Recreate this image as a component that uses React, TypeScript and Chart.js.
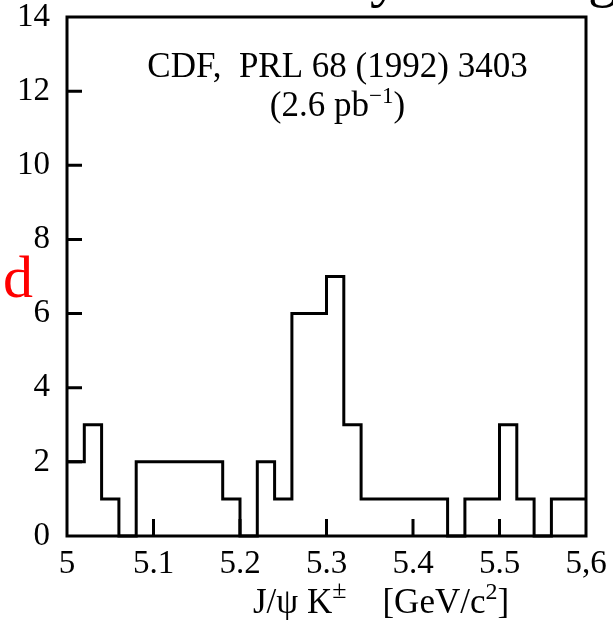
import React, { useEffect, useRef } from "react";
import Chart from "chart.js/auto";

// Bin lower edges (GeV/c^2), bin width 0.02
const binEdges = [
  5.0, 5.02, 5.04, 5.06, 5.08, 5.1, 5.12, 5.14, 5.16, 5.18,
  5.2, 5.22, 5.24, 5.26, 5.28, 5.3, 5.32, 5.34, 5.36, 5.38,
  5.4, 5.42, 5.44, 5.46, 5.48, 5.5, 5.52, 5.54, 5.56, 5.58,
];
const histEnd = 5.6;
// Events per bin
const counts = [
  2, 3, 1, 0, 2, 2, 2, 2, 2, 1,
  0, 2, 1, 6, 6, 7, 3, 1, 1, 1,
  1, 1, 0, 1, 1, 3, 1, 0, 1, 1,
];
const xTickLabels = ["5", "5.1", "5.2", "5.3", "5.4", "5.5", "5,6"];
const yTickLabels = ["0", "2", "4", "6", "8", "10", "12", "14"];
const annotationLine1 = "CDF,  PRL 68 (1992) 3403";
const annotationLine2 = ["(2.6 pb", "\u22121", ")"];
const axisTitle = ["J/\u03c8 K", "\u00b1", "[GeV/c", "2", "]"];

const SERIF = '"Liberation Serif", "DejaVu Serif", serif';

type Run = { text: string; size: number; rise: number; gap?: number };

function drawRuns(ctx: CanvasRenderingContext2D, runs: Run[], cx: number, baseline: number) {
  let total = 0;
  const widths = runs.map((r) => {
    ctx.font = `${r.size}px ${SERIF}`;
    const w = ctx.measureText(r.text).width + (r.gap || 0);
    total += w;
    return w;
  });
  let x = cx - total / 2;
  runs.forEach((r, i) => {
    ctx.font = `${r.size}px ${SERIF}`;
    ctx.fillText(r.text, x + (r.gap || 0), baseline - r.rise);
    x += widths[i];
  });
}

const decorPlugin = {
  id: "decor",
  afterDraw(chart: any) {
    const { ctx, chartArea } = chart;
    const { left, right, top, bottom } = chartArea;
    const xs = chart.scales.x;
    const ys = chart.scales.y;
    ctx.save();
    ctx.strokeStyle = "#000";
    ctx.fillStyle = "#000";
    ctx.lineWidth = 3;
    ctx.lineJoin = "miter";
    // frame
    ctx.strokeRect(left, top, right - left, bottom - top);
    // inward ticks
    ctx.beginPath();
    ys.ticks.forEach((t: any) => {
      if (t.value <= ys.min || t.value >= ys.max) return;
      const y = ys.getPixelForValue(t.value);
      ctx.moveTo(left, y);
      ctx.lineTo(left + 15, y);
    });
    xs.ticks.forEach((t: any) => {
      if (t.value <= xs.min + 1e-9 || t.value >= xs.max - 1e-9) return;
      const x = xs.getPixelForValue(t.value);
      ctx.moveTo(x, bottom);
      ctx.lineTo(x, bottom - 17);
    });
    ctx.stroke();

    ctx.textBaseline = "alphabetic";
    ctx.textAlign = "left";
    const cx = (left + right) / 2 + 11;
    drawRuns(ctx, [{ text: annotationLine1, size: 35, rise: 0 }], cx, 77);
    drawRuns(
      ctx,
      [
        { text: annotationLine2[0], size: 35, rise: 0 },
        { text: annotationLine2[1], size: 23, rise: 13 },
        { text: annotationLine2[2], size: 35, rise: 0 },
      ],
      cx,
      116
    );
    // axis title
    drawRuns(
      ctx,
      [
        { text: axisTitle[0], size: 35, rise: 0 },
        { text: axisTitle[1], size: 26, rise: 15 },
        { text: axisTitle[2], size: 35, rise: 0, gap: 36 },
        { text: axisTitle[3], size: 24, rise: 14 },
        { text: axisTitle[4], size: 35, rise: 0 },
      ],
      381,
      613
    );
    // red overlay letter
    ctx.fillStyle = "#ff0000";
    ctx.font = `60px ${SERIF}`;
    ctx.fillText("d", 3, 297);
    // cut-off glyphs at the top edge
    ctx.fillStyle = "#000";
    ctx.fillText("y", 370, -5);
    ctx.fillText("g", 588, -5);
    ctx.restore();
  },
};

export default function App() {
  const ref = useRef<HTMLCanvasElement | null>(null);
  useEffect(() => {
    if (!ref.current) return;
    const points = binEdges.map((x, i) => ({ x, y: counts[i] }));
    points.push({ x: histEnd, y: counts[counts.length - 1] });
    const tickFont = { family: SERIF, size: 33, lineHeight: 1 };
    const chart = new Chart(ref.current, {
      type: "line",
      data: {
        datasets: [
          {
            data: points,
            stepped: "before",
            borderColor: "#000",
            borderWidth: 3,
            borderJoinStyle: "miter",
            borderCapStyle: "butt",
            pointRadius: 0,
            fill: false,
            clip: false,
          } as any,
        ],
      },
      options: {
        responsive: false,
        animation: false,
        devicePixelRatio: 1,
        layout: { padding: 0 },
        plugins: { legend: { display: false }, tooltip: { enabled: false } },
        scales: {
          x: {
            type: "linear",
            min: 5,
            max: 5.6,
            afterFit: (s: any) => {
              s.height = 84;
              s.paddingLeft = 0;
              s.paddingRight = 27;
            },
            grid: { display: false, drawTicks: false },
            border: { display: false },
            ticks: {
              stepSize: 0.1,
              autoSkip: false,
              maxRotation: 0,
              padding: 12,
              color: "#000",
              font: tickFont,
              callback: (_v: any, i: number) => xTickLabels[i],
            },
          },
          y: {
            min: 0,
            max: 14,
            afterFit: (s: any) => {
              s.width = 67;
              s.paddingTop = 17;
              s.paddingBottom = 0;
            },
            grid: { display: false, drawTicks: false },
            border: { display: false },
            ticks: {
              stepSize: 2,
              padding: 17,
              color: "#000",
              font: tickFont,
              callback: (_v: any, i: number) => yTickLabels[i],
            },
          },
        },
      },
      plugins: [decorPlugin],
    });
    return () => chart.destroy();
  }, []);
  return (
    <div style={{ position: "absolute", left: 0, top: 0, width: 613, height: 620, background: "#fff" }}>
      <canvas ref={ref} width={613} height={620} style={{ display: "block" }} />
    </div>
  );
}
